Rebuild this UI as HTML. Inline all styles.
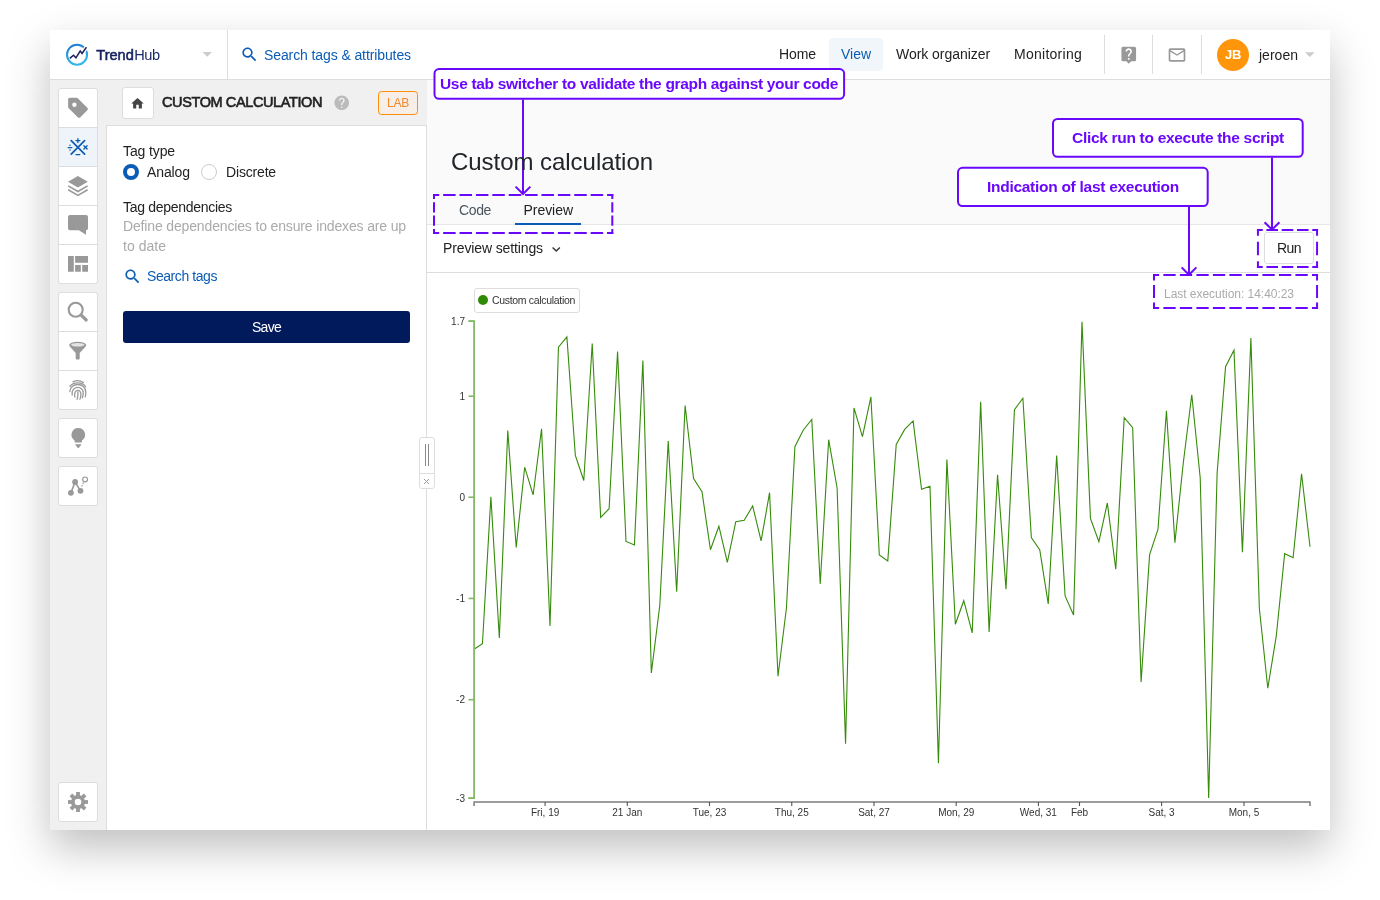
<!DOCTYPE html>
<html><head><meta charset="utf-8"><title>TrendHub - Custom calculation</title>
<style>
*{box-sizing:border-box;margin:0;padding:0}
html,body{width:1380px;height:900px;background:#fff;overflow:hidden}
body{position:relative;font-family:"Liberation Sans",sans-serif}
.win{position:absolute;left:50px;top:30px;width:1280px;height:800px;background:#fff;box-shadow:0 18px 40px rgba(0,0,0,.25)}
.a{position:absolute}
.t{position:absolute;line-height:20px;height:20px;white-space:nowrap}
.ic{position:absolute}
.box{position:absolute;background:#fff;border:1px solid #ddd;border-radius:3px}
.al{font-family:"Liberation Sans",sans-serif;font-size:10px;fill:#333}
.cell{position:absolute;left:0;width:38px;height:1px;background:#ddd}
.ann{position:absolute;background:#fff;border:2px solid #6a08fc;border-radius:6px}
</style></head><body>
<div class="win"></div>
<!-- top header -->
<div class="a" style="left:50px;top:30px;width:1280px;height:50px;background:#fff;border-bottom:1px solid #ddd"></div>
<div class="a" style="left:227px;top:30px;width:1px;height:49px;background:#ddd"></div>
<div class="a" style="left:829px;top:38px;width:54px;height:33px;background:#f1f6fb;border-radius:4px"></div>
<div class="a" style="left:1104px;top:35px;width:1px;height:39px;background:#ddd"></div>
<div class="a" style="left:1152px;top:35px;width:1px;height:39px;background:#ddd"></div>
<div class="a" style="left:1201px;top:35px;width:1px;height:39px;background:#ddd"></div>
<div class="a" style="left:1217px;top:39px;width:32px;height:32px;border-radius:50%;background:#ff950a"></div>
<svg class="a" style="left:0;top:0" width="1380" height="900">
 <path d="M202.5,52h9.5l-4.75,4.8z" fill="#ccc"/>
 <path d="M1305,52.3h9.7l-4.85,4.8z" fill="#ccc"/>
 <!-- logo -->
 <defs><linearGradient id="lg" x1="0" y1="0" x2="0.3" y2="1"><stop offset="0" stop-color="#1a78cf"/><stop offset="1" stop-color="#2fb8ea"/></linearGradient></defs>
 <circle cx="77.05" cy="54.7" r="10" fill="none" stroke="url(#lg)" stroke-width="2"/>
 <path d="M82.1,53.5L86.800,46.700" fill="none" stroke="#fff" stroke-width="4"/>
 <path d="M69.8,58.4L73.5,55.3L75.9,57.8L80.2,51L82.1,53.5L86.4,47.3" fill="none" stroke="#1c1f5e" stroke-width="1.5" stroke-linejoin="miter"/>
</svg>
<!-- sidebar -->
<div class="a" style="left:50px;top:80px;width:57px;height:750px;background:#f0f0f0"></div>
<div class="box" style="left:58px;top:88px;width:40px;height:196px"><div class="a" style="left:0;top:38px;width:38px;height:39px;background:#eef4fa"></div><div class="cell" style="top:38px"></div><div class="cell" style="top:77px"></div><div class="cell" style="top:116px"></div><div class="cell" style="top:155px"></div></div>
<div class="box" style="left:58px;top:292px;width:40px;height:118px"><div class="cell" style="top:38px"></div><div class="cell" style="top:77px"></div></div>
<div class="box" style="left:58px;top:418px;width:40px;height:40px"></div>
<div class="box" style="left:58px;top:466px;width:40px;height:40px"></div>
<div class="box" style="left:58px;top:782px;width:40px;height:40px"></div>
<!-- side panel -->
<div class="a" style="left:107px;top:80px;width:320px;height:46px;background:#f0f0f0"></div>
<div class="a" style="left:106px;top:125px;width:321px;height:705px;background:#fff;border:1px solid #ddd;border-bottom:none"></div>
<div class="box" style="left:122px;top:87px;width:32px;height:32px"></div>
<div class="a" style="left:378px;top:91px;width:40px;height:24px;border:1.5px solid #ff8c0a;border-radius:3.500px;background:#f7efe7"></div>
<div class="a" style="left:123px;top:164px;width:16px;height:16px;border-radius:50%;border:4.300px solid #0b5cb5;background:#fff"></div>
<div class="a" style="left:201px;top:164px;width:16px;height:16px;border-radius:50%;border:1px solid #ccc;background:#fff"></div>
<div class="a" style="left:123px;top:311px;width:287px;height:32px;border-radius:3px;background:#001a5c"></div>
<!-- main -->
<div class="a" style="left:427px;top:80px;width:903px;height:145px;background:#fafafa;border-bottom:1px solid #e6e6e6"></div>
<div class="a" style="left:427px;top:272px;width:903px;height:1px;background:#ddd"></div>
<div class="a" style="left:515px;top:222.5px;width:66px;height:2.5px;background:#0b5cb5"></div>
<div class="box" style="left:1264px;top:232px;width:50px;height:32px"></div>
<!-- resize handle -->
<div class="box" style="left:419px;top:437px;width:16px;height:37px;border-radius:3px 3px 0 0"></div>
<div class="box" style="left:419px;top:473px;width:16px;height:16px;border-radius:0 0 3px 3px"></div>
<!-- legend -->
<div class="box" style="left:474px;top:288px;width:106px;height:25px"></div>
<div class="a" style="left:478px;top:295px;width:10px;height:10px;border-radius:50%;background:#2f8a05"></div>
<!-- annotations -->
<svg class="a" style="left:0;top:0" width="1380" height="900">
 <g fill="#fff" stroke="#6a08fc" stroke-width="2">
  <rect x="434.500" y="69.100" width="409.600" height="29.700" rx="4.500"/>
  <rect x="1053" y="118.900" width="249.700" height="37.900" rx="4.500"/>
  <rect x="958" y="167.800" width="249.700" height="38.200" rx="4.500"/>
 </g>
 <polyline fill="none" stroke="#368b0a" stroke-width="1.1" stroke-linejoin="miter" points="474.00,649.20 482.44,643.70 490.89,496.70 499.33,637.95 507.78,430.45 516.22,547.45 524.67,467.20 533.11,494.95 541.56,428.70 550.00,625.95 558.44,347.20 566.89,336.95 575.33,455.45 583.78,480.45 592.22,343.45 600.67,517.45 609.11,508.70 617.56,351.45 626.00,541.45 634.44,544.95 642.89,360.45 651.33,672.95 659.78,605.45 668.22,440.95 676.67,591.70 685.11,405.45 693.56,478.45 702.00,491.70 710.44,549.70 718.89,526.20 727.33,562.45 735.78,521.70 744.22,520.20 752.67,505.95 761.11,540.95 769.56,492.70 778.00,676.20 786.44,607.95 794.89,446.70 803.33,429.95 811.78,419.45 820.22,583.95 828.67,439.70 837.11,487.95 845.56,743.70 854.00,407.95 862.44,436.70 870.89,396.95 879.33,554.95 887.78,560.95 896.22,444.45 904.67,429.45 913.11,420.95 921.56,489.20 930.00,486.20 938.44,763.20 946.89,459.45 955.33,624.20 963.78,600.70 972.22,632.95 980.67,401.70 989.11,631.95 997.56,474.70 1006.00,589.20 1014.44,409.70 1022.89,398.20 1031.33,537.45 1039.78,549.95 1048.22,603.95 1056.67,455.45 1065.11,595.95 1073.56,614.95 1082.00,321.70 1090.44,518.45 1098.89,541.70 1107.33,502.95 1115.78,569.20 1124.22,417.70 1132.67,427.70 1141.11,681.95 1149.56,554.95 1158.00,529.20 1166.44,410.70 1174.89,542.70 1183.33,462.45 1191.78,394.70 1200.22,477.95 1208.67,797.95 1217.11,472.95 1225.56,366.70 1234.00,350.20 1242.44,552.20 1250.89,337.95 1259.33,607.95 1267.78,688.20 1276.22,636.45 1284.67,553.70 1293.11,557.70 1301.56,473.70 1310.00,546.70"/>
 <path d="M468.5,321.2H474.1V798.2H468.5" fill="none" stroke="#84b96a" stroke-width="1.8"/><path d="M468.5,321.2H474.1" stroke="#84b96a" stroke-width="1.6"/><text x="465" y="324.7" text-anchor="end" class="al">1.7</text><path d="M468.5,396.2H474.1" stroke="#84b96a" stroke-width="1.6"/><text x="465" y="399.7" text-anchor="end" class="al">1</text><path d="M468.5,497.2H474.1" stroke="#84b96a" stroke-width="1.6"/><text x="465" y="500.7" text-anchor="end" class="al">0</text><path d="M468.5,598.45H474.1" stroke="#84b96a" stroke-width="1.6"/><text x="465" y="601.95" text-anchor="end" class="al">-1</text><path d="M468.5,699.7H474.1" stroke="#84b96a" stroke-width="1.6"/><text x="465" y="703.2" text-anchor="end" class="al">-2</text><path d="M468.5,798.2H474.1" stroke="#84b96a" stroke-width="1.6"/><text x="465" y="801.7" text-anchor="end" class="al">-3</text><path d="M474.1,806V802H1310V806" fill="none" stroke="#7c7c7c" stroke-width="1.5"/><path d="M545.1,802V806" stroke="#555" stroke-width="1.1"/><text x="545.1" y="816.400" text-anchor="middle" class="al">Fri, 19</text><path d="M627.3,802V806" stroke="#555" stroke-width="1.1"/><text x="627.3" y="816.400" text-anchor="middle" class="al">21 Jan</text><path d="M709.5,802V806" stroke="#555" stroke-width="1.1"/><text x="709.5" y="816.400" text-anchor="middle" class="al">Tue, 23</text><path d="M791.75,802V806" stroke="#555" stroke-width="1.1"/><text x="791.75" y="816.400" text-anchor="middle" class="al">Thu, 25</text><path d="M874,802V806" stroke="#555" stroke-width="1.1"/><text x="874" y="816.400" text-anchor="middle" class="al">Sat, 27</text><path d="M956.2,802V806" stroke="#555" stroke-width="1.1"/><text x="956.2" y="816.400" text-anchor="middle" class="al">Mon, 29</text><path d="M1038.4,802V806" stroke="#555" stroke-width="1.1"/><text x="1038.4" y="816.400" text-anchor="middle" class="al">Wed, 31</text><path d="M1079.5,802V806" stroke="#555" stroke-width="1.1"/><text x="1079.5" y="816.400" text-anchor="middle" class="al">Feb</text><path d="M1161.6,802V806" stroke="#555" stroke-width="1.1"/><text x="1161.6" y="816.400" text-anchor="middle" class="al">Sat, 3</text><path d="M1244,802V806" stroke="#555" stroke-width="1.1"/><text x="1244" y="816.400" text-anchor="middle" class="al">Mon, 5</text>
 <!-- handle -->
 <path d="M425.500,444v22M428.500,444v22" stroke="#8a8a8a" stroke-width="1"/>
 <path d="M424,479l5,5M429,479l-5,5" stroke="#999" stroke-width="1"/>
 <!-- dashed boxes -->
 <g fill="none" stroke="#6a08fc" stroke-width="2">
 <path d="M433.00,194.90H613.30" stroke-dasharray="12.50 3.89" stroke-dashoffset="6.25"/><path d="M433.00,233.10H613.30" stroke-dasharray="12.50 3.89" stroke-dashoffset="6.25"/><path d="M434.00,193.90V234.10" stroke-dasharray="10.30 3.10" stroke-dashoffset="5.15"/><path d="M612.30,193.90V234.10" stroke-dasharray="10.30 3.10" stroke-dashoffset="5.15"/><path d="M1256.94,229.94H1318.06" stroke-dasharray="11.60 3.68" stroke-dashoffset="5.80"/><path d="M1256.94,267.10H1318.06" stroke-dasharray="11.60 3.68" stroke-dashoffset="5.80"/><path d="M1257.94,228.94V268.10" stroke-dasharray="13.70 5.88" stroke-dashoffset="6.85"/><path d="M1317.06,228.94V268.10" stroke-dasharray="13.70 5.88" stroke-dashoffset="6.85"/><path d="M1153.00,275.00H1318.06" stroke-dasharray="12.30 4.21" stroke-dashoffset="6.15"/><path d="M1153.00,308.00H1318.06" stroke-dasharray="12.30 4.21" stroke-dashoffset="6.15"/><path d="M1154.00,274.00V309.00" stroke-dasharray="12.90 4.60" stroke-dashoffset="6.45"/><path d="M1317.06,274.00V309.00" stroke-dasharray="12.90 4.60" stroke-dashoffset="6.45"/>
 <path d="M523,99.5V193.500M515.600,186.600l7.400,7.400l7.400,-7.400"/>
 <path d="M1272,157.5V229.200M1264.600,222.200l7.400,7.400l7.400,-7.400"/>
 <path d="M1189,207V274.400M1181.600,267.400l7.400,7.400l7.400,-7.400"/>
 </g>
 <!-- sidebar custom icons -->
 <g fill="#999">
  <!-- tag -->
  <path d="M68.100,99.600c0,-1 .8,-1.800 1.800,-1.800h6.700c.55,0 1.050,.2 1.400,.6l9.300,9.300c.75,.75 .75,1.900 0,2.650l-6.900,6.900c-.75,.75 -1.900,.75 -2.650,0l-9.050,-9.050c-.4,-.4 -.6,-.9 -.6,-1.400zM74.400,102.500a2.200,2.200 0 1 0 0,4.400a2.200,2.200 0 1 0 0,-4.400z" fill-rule="evenodd"/>
  <!-- layers -->
  <path d="M77.900,176.100l9.900,5.700l-9.900,5.700l-9.900,-5.700z"/>
  <!-- chat -->
  <path d="M70,215h16a2,2 0 0 1 2,2v11.200a2,2 0 0 1 -2,2v4.600l-7.100,-4.600h-8.900a2,2 0 0 1 -2,-2v-11.200a2,2 0 0 1 2,-2z"/>
  <!-- quilt -->
  <path d="M68,256.100h5.800v15.600h-5.800zM75.100,256.100h12.900v6.700h-12.900zM75.100,265h5.700v6.700h-5.700zM82.200,265h5.800v6.700h-5.800z"/>
  <!-- bulb -->
  <path d="M78.300,428a6.800,6.800 0 0 1 3.700,12.500v1.300a.7,.7 0 0 1 -.7,.7h-6a.7,.7 0 0 1 -.7,-.7v-1.300a6.800,6.800 0 0 1 3.700,-12.500zM75,444.300h6.600l-2.500,3.100a1,1 0 0 1 -1.600,0z"/>
  <!-- funnel -->
  <path d="M69.200,345.100a8.500,3.300 0 0 1 17,0c0,.8 -.5,1.300 -1,1.800l-5.500,6.200v5.400a1,1 0 0 1 -1,1h-2a1,1 0 0 1 -1,-1v-5.400l-5.500,-6.200c-.5,-.5 -1,-1 -1,-1.800z"/>
  <ellipse cx="77.700" cy="344.700" rx="6.600" ry="1.700" fill="#e4e4e4"/>
 </g>
 <g fill="none" stroke="#999">
  <path d="M68.200,185.900l9.700,5.600l9.700,-5.600M68.200,189.800l9.700,5.600l9.700,-5.600" stroke-width="1.600"/>
  <!-- search -->
  <circle cx="75.700" cy="309.700" r="7" stroke-width="2.100"/>
  <path d="M81.200,315.200l5,4.800" stroke-width="3.200" stroke-linecap="round"/>
 </g>
 <!-- gear -->
 <g fill="#999" transform="translate(78,802)">
  <circle r="7"/>
  <rect x="-1.900" y="-10" width="3.800" height="20"/>
  <rect x="-1.900" y="-10" width="3.800" height="20" transform="rotate(45)"/>
  <rect x="-1.900" y="-10" width="3.800" height="20" transform="rotate(90)"/>
  <rect x="-1.900" y="-10" width="3.800" height="20" transform="rotate(135)"/>
  <circle r="3.300" fill="#fff"/>
 </g>
 <!-- calc -->
 <g stroke="#0b5cb5" fill="none" stroke-linecap="round">
  <path d="M71.200,140.700l13.400,13.400M84.600,140.700l-13.400,13.400" stroke-width="1.700"/>
  <path d="M77.900,138.600v4M75.900,140.600h4M76,154.600h3.800M68.100,147.600h3.800M83.900,145.800l3.200,3.200M87.100,145.800l-3.200,3.200" stroke-width="1.300"/>
  <path d="M70,145.300v.01M70,149.900v.01" stroke-width="1.500"/>
 </g>
 <!-- fingerprint -->
 <g fill="none" stroke="#999" stroke-width="1.300" stroke-linecap="round">
  <path d="M73,381.800c3.500,-1.600 7.500,-1.200 10.400,.8"/>
  <path d="M70,386.200c4,-4.400 12,-4.400 15.600,.6"/>
  <path d="M69.800,391.500c.5,-9.500 16,-9.500 16,1c0,1.700 -.1,3 -.6,4.400"/>
  <path d="M72.200,395c-1.400,-10 11.500,-10 11,-1.500c-.1,1.600 -.4,3 -.9,4.300"/>
  <path d="M74.800,397c-1.200,-8.500 6.600,-8.500 6.100,-2c-.1,1.500 -.4,3 -1,4.200"/>
  <path d="M77.900,392c.2,3 -.2,5.500 -.8,7.300"/>
 </g>
 <!-- graph icon -->
 <g stroke="#999" fill="#999">
  <path d="M70.900,492.800l4.200,-10.800l5.400,8.800" fill="none" stroke-width="1.600"/>
  <circle cx="70.900" cy="492.800" r="2.900" stroke="none"/><circle cx="75.100" cy="482" r="2.900" stroke="none"/><circle cx="80.500" cy="490.800" r="2.900" stroke="none"/>
  <circle cx="85.100" cy="479.400" r="2.400" fill="#fff" stroke-width="1.200"/>
  <path d="M81.600,486.400l2.200,-4.500" stroke-width="1.100" stroke-dasharray="1.600 1.200" fill="none"/>
 </g>
</svg>
<svg class="ic" style="left:240.3px;top:45.2px" width="19" height="19" viewBox="0 0 24 24"><path fill="#0b5cb5" d="M15.5 14h-.79l-.28-.27C15.41 12.59 16 11.11 16 9.5 16 5.91 13.09 3 9.5 3S3 5.91 3 9.5 5.91 16 9.5 16c1.61 0 3.09-.59 4.23-1.57l.27.28v.79l5 4.99L20.49 19l-4.99-5zm-6 0C7.01 14 5 11.99 5 9.5S7.01 5 9.5 5 14 7.01 14 9.5 11.99 14 9.5 14z"/></svg><svg class="ic" style="left:130.2px;top:95.5px" width="15" height="15" viewBox="0 0 24 24"><path fill="#444" d="M10 20v-6h4v6h5v-8h3L12 3 2 12h3v8z"/></svg><svg class="ic" style="left:332.75px;top:93.75px" width="17.5" height="17.5" viewBox="0 0 24 24"><path fill="#bbb" d="M12 2C6.48 2 2 6.48 2 12s4.48 10 10 10 10-4.48 10-10S17.52 2 12 2zm1 17h-2v-2h2v2zm2.07-7.75l-.9.92C13.45 12.9 13 13.5 13 15h-2v-.5c0-1.1.45-2.1 1.17-2.83l1.24-1.26c.37-.36.59-.86.59-1.41 0-1.1-.9-2-2-2s-2 .9-2 2H8c0-2.21 1.79-4 4-4s4 1.79 4 4c0 .88-.36 1.68-.93 2.25z"/></svg><svg class="ic" style="left:123.0px;top:267.0px" width="19" height="19" viewBox="0 0 24 24"><path fill="#0b5cb5" d="M15.5 14h-.79l-.28-.27C15.41 12.59 16 11.11 16 9.5 16 5.91 13.09 3 9.5 3S3 5.91 3 9.5 5.91 16 9.5 16c1.61 0 3.09-.59 4.23-1.57l.27.28v.79l5 4.99L20.49 19l-4.99-5zm-6 0C7.01 14 5 11.99 5 9.5S7.01 5 9.5 5 14 7.01 14 9.5 11.99 14 9.5 14z"/></svg><svg class="ic" style="left:547.75px;top:241.25px" width="16.5" height="16.5" viewBox="0 0 24 24"><path fill="#333" d="M16.59 8.59L12 13.17 7.41 8.59 6 10l6 6 6-6z"/></svg><svg class="ic" style="left:1118.75px;top:44.75px" width="19.5" height="19.5" viewBox="0 0 24 24"><path fill="#999" d="M19 2H5c-1.11 0-2 .9-2 2v14c0 1.1.89 2 2 2h4l3 3 3-3h4c1.1 0 2-.9 2-2V4c0-1.1-.9-2-2-2zm-6 16h-2v-2h2v2zm2.07-7.75l-.9.92C13.45 11.9 13 12.5 13 14h-2v-.5c0-1.1.45-2.1 1.17-2.83l1.24-1.26c.37-.36.59-.86.59-1.41 0-1.1-.9-2-2-2s-2 .9-2 2H8c0-2.21 1.79-4 4-4s4 1.79 4 4c0 .88-.36 1.68-.93 2.25z"/></svg><svg class="ic" style="left:1167.0px;top:45.0px" width="20" height="20" viewBox="0 0 24 24"><path fill="#999" d="M20 4H4c-1.1 0-1.99.9-1.99 2L2 18c0 1.1.9 2 2 2h16c1.1 0 2-.9 2-2V6c0-1.1-.9-2-2-2zm0 14H4V8l8 5 8-5v10zm-8-7L4 6h16l-8 5z"/></svg>
<span class="t" id="t0" style="left:264px;top:45px;font-size:14px;font-weight:400;color:#0b5cb5;letter-spacing:-0.101px;">Search tags &amp; attributes</span><span class="t" id="t1" style="left:779px;top:44px;font-size:14px;font-weight:400;color:#222;letter-spacing:-0.090px;">Home</span><span class="t" id="t2" style="left:841px;top:44px;font-size:14px;font-weight:400;color:#0b5cb5;letter-spacing:-0.023px;">View</span><span class="t" id="t3" style="left:896px;top:44px;font-size:14px;font-weight:400;color:#222;letter-spacing:-0.048px;">Work organizer</span><span class="t" id="t4" style="left:1014px;top:44px;font-size:14px;font-weight:400;color:#222;letter-spacing:0.263px;">Monitoring</span><span class="t" id="t5" style="left:1259px;top:45px;font-size:14px;font-weight:400;color:#222;letter-spacing:0.013px;">jeroen</span><span class="t" id="t6" style="left:1225px;top:45px;font-size:13px;font-weight:700;color:#fff;letter-spacing:-0.312px;">JB</span><span class="t" id="t7" style="left:162px;top:92px;font-size:14.5px;font-weight:400;color:#222;letter-spacing:-0.392px;-webkit-text-stroke:0.6px #222;">CUSTOM CALCULATION</span><span class="t" id="t8" style="left:387px;top:92.5px;font-size:12px;font-weight:400;color:#f0892e;letter-spacing:-0.229px;">LAB</span><span class="t" id="t9" style="left:123px;top:141px;font-size:14px;font-weight:400;color:#222;letter-spacing:-0.117px;">Tag type</span><span class="t" id="t10" style="left:147px;top:162px;font-size:14px;font-weight:400;color:#222;letter-spacing:-0.099px;">Analog</span><span class="t" id="t11" style="left:226px;top:162px;font-size:14px;font-weight:400;color:#222;letter-spacing:-0.170px;">Discrete</span><span class="t" id="t12" style="left:123px;top:197px;font-size:14px;font-weight:400;color:#222;letter-spacing:-0.291px;">Tag dependencies</span><span class="t" id="t13" style="left:123px;top:216px;font-size:14px;font-weight:400;color:#aaa;letter-spacing:-0.149px;">Define dependencies to ensure indexes are up</span><span class="t" id="t14" style="left:123px;top:236px;font-size:14px;font-weight:400;color:#aaa;letter-spacing:0.025px;">to date</span><span class="t" id="t15" style="left:147px;top:266px;font-size:14px;font-weight:400;color:#0b5cb5;letter-spacing:-0.429px;">Search tags</span><span class="t" id="t16" style="left:252px;top:317px;font-size:14px;font-weight:400;color:#fff;letter-spacing:-0.730px;">Save</span><span class="t" id="t17" style="left:451px;top:151.5px;font-size:24px;font-weight:400;color:#212529;letter-spacing:-0.042px;">Custom calculation</span><span class="t" id="t18" style="left:459px;top:200px;font-size:14px;font-weight:400;color:#4a5560;letter-spacing:-0.367px;">Code</span><span class="t" id="t19" style="left:523.5px;top:200px;font-size:14px;font-weight:400;color:#222;letter-spacing:-0.042px;">Preview</span><span class="t" id="t20" style="left:443px;top:238px;font-size:14px;font-weight:400;color:#222;letter-spacing:-0.121px;">Preview settings</span><span class="t" id="t21" style="left:1277px;top:238px;font-size:14px;font-weight:400;color:#222;letter-spacing:-0.562px;">Run</span><span class="t" id="t22" style="left:1164px;top:284px;font-size:12px;font-weight:400;color:#aaa;letter-spacing:-0.032px;">Last execution: 14:40:23</span><span class="t" id="t23" style="left:492px;top:290px;font-size:10.5px;font-weight:400;color:#333;letter-spacing:-0.317px;">Custom calculation</span><span class="t" id="t24" style="left:440px;top:74px;font-size:15.5px;font-weight:700;color:#6a08fc;letter-spacing:-0.322px;">Use tab switcher to validate the graph against your code</span><span class="t" id="t25" style="left:1072px;top:128px;font-size:15.5px;font-weight:700;color:#6a08fc;letter-spacing:-0.303px;">Click run to execute the script</span><span class="t" id="t26" style="left:987px;top:177px;font-size:15.5px;font-weight:700;color:#6a08fc;letter-spacing:-0.279px;">Indication of last execution</span><span class="t" id="t27" style="left:96.3px;top:44.5px;font-size:14.6px;font-weight:400;color:#14215e;letter-spacing:-0.017px;-webkit-text-stroke:0.55px #14215e;">Trend</span><span class="t" id="t28" style="left:134.2px;top:44.5px;font-size:14.6px;font-weight:400;color:#1b2a6b;letter-spacing:-0.363px;">Hub</span>
</body></html>
